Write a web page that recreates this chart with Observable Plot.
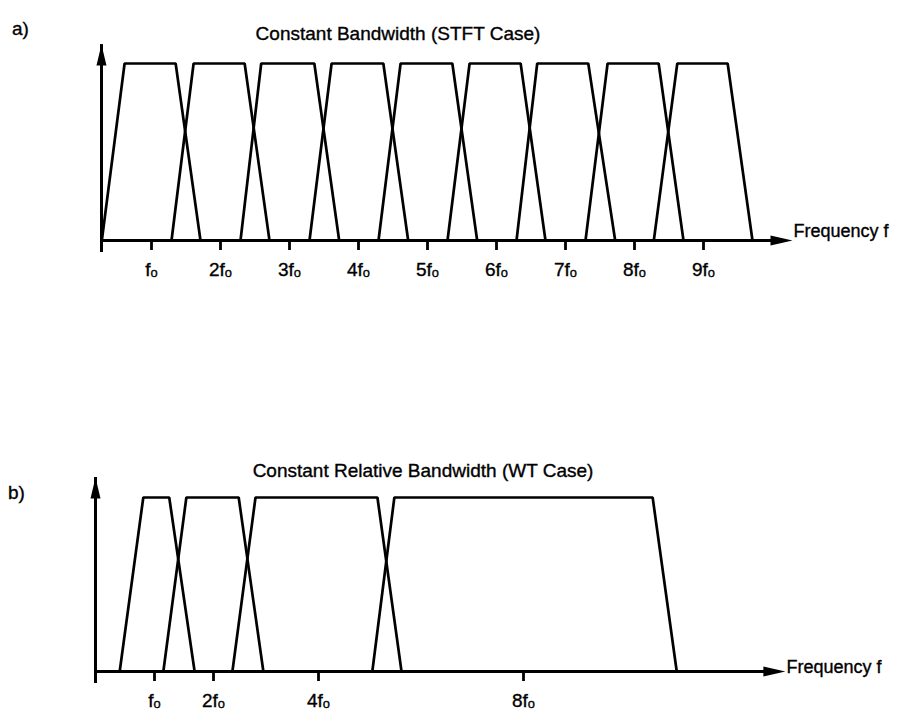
<!DOCTYPE html>
<html>
<head>
<meta charset="utf-8">
<script src="https://cdn.jsdelivr.net/npm/d3@7"></script>
<script src="https://cdn.jsdelivr.net/npm/@observablehq/plot@0.6"></script>
<style>
  body { margin: 0; background: #fff; }
  #wrap { position: relative; width: 898px; height: 717px; background: #fff; overflow: hidden;
          font-family: "Liberation Sans", Arial, Helvetica, sans-serif; color: #000; }
  .t { position: absolute; font-size: 19px; line-height: 19px; white-space: nowrap; -webkit-text-stroke: 0.35px #000; }
  .c { text-align: center; }
  .p { position: absolute; left: 0; }
  #wrap svg text { stroke: #000; stroke-width: 0.35px; }
</style>
</head>
<body>
<div id="wrap">
  <div class="t" style="left:12px;top:19px">a)</div>
  <div class="t c" style="left:0;width:796px;top:24px">Constant Bandwidth (STFT Case)</div>
  <div class="t" style="left:8px;top:483px">b)</div>
  <div class="t c" style="left:0;width:846px;top:461px">Constant Relative Bandwidth (WT Case)</div>
  <div id="topChart" class="p" style="top:0"></div>
  <div id="botChart" class="p" style="top:440px"></div>
</div>
<script>
// ---------- data (frequency in units of fo, response 0..1) ----------
// (a) Constant bandwidth filters
const topTickValues = [1, 2, 3, 4, 5, 6, 7, 8, 9];
const topTickLabels = ["f", "2f", "3f", "4f", "5f", "6f", "7f", "8f", "9f"];
const topLeftBottom  = [0.28, 1.29, 2.29, 3.29, 4.29, 5.29, 6.29, 7.29, 8.28];
const topLeftTop     = [0.61, 1.61, 2.59, 3.61, 4.61, 5.61, 6.59, 7.61, 8.62];
const topRightTop    = [1.35, 2.35, 3.36, 4.36, 5.36, 6.35, 7.33, 8.35, 9.35];
const topRightBottom = [1.71, 2.71, 3.72, 4.72, 5.72, 6.71, 7.72, 8.71, 9.71];
const topXAxisExtent = [0.275, 10.29];
const topYAxisExtent = [0, 1.107];

// (b) Constant relative bandwidth filters
const botTickValues = [1, 2, 4, 8];
const botTickLabels = ["f", "2f", "4f", "8f"];
const botLeftBottom  = [0.41, 1.15, 2.36, 5.05];
const botLeftTop     = [0.81, 1.54, 2.80, 5.48];
const botRightTop    = [1.25, 2.48, 5.15, 10.52];
const botRightBottom = [1.68, 2.95, 5.62, 10.99];
const botXAxisExtent = [0, 13.11];
const botYAxisExtent = [0, 1.115];

const tickSubscript = "o";
const axisTitle = "Frequency f";

// ---------- helpers ----------
function trapezoids(lb, lt, rt, rb) {
  const rows = [];
  lb.forEach((_, i) => {
    rows.push({id: i, f: lb[i], a: 0});
    rows.push({id: i, f: lt[i], a: 1});
    rows.push({id: i, f: rt[i], a: 1});
    rows.push({id: i, f: rb[i], a: 0});
  });
  return rows;
}
const arrowRight = {draw(ctx) { ctx.moveTo(0, 0); ctx.lineTo(-22, -5); ctx.lineTo(-22, 5); ctx.closePath(); }};
const arrowUp    = {draw(ctx) { ctx.moveTo(0, 0); ctx.lineTo(-5, 21); ctx.lineTo(5, 21); ctx.closePath(); }};

function panel({height, marginTop, marginBottom, xScale, ticks, labels, lb, lt, rt, rb, xExt, yExt, labelDy}) {
  const svg = Plot.plot({
    width: 898,
    height,
    marginTop,
    marginBottom,
    marginLeft: 0,
    marginRight: 0,
    x: xScale,
    y: {domain: [0, 1], axis: null},
    style: {fontFamily: '"Liberation Sans", Arial, Helvetica, sans-serif', fontSize: "19px", color: "#000", background: "transparent", overflow: "visible"},
    marks: [
      Plot.line(trapezoids(lb, lt, rt, rb), {x: "f", y: "a", z: "id", stroke: "#000", strokeWidth: 2.7, strokeLinejoin: "miter"}),
      Plot.ruleY([0], {x1: xExt[0], x2: xExt[1], stroke: "#000", strokeWidth: 3, insetRight: 12}),
      Plot.ruleX([xExt[0]], {y1: yExt[0], y2: yExt[1], stroke: "#000", strokeWidth: 3, insetTop: 12}),
      Plot.dot([{f: xExt[1], a: 0}], {x: "f", y: "a", symbol: arrowRight, fill: "#000", stroke: "none"}),
      Plot.dot([{f: xExt[0], a: yExt[1]}], {x: "f", y: "a", symbol: arrowUp, fill: "#000", stroke: "none"}),
      Plot.text([{f: xExt[1], a: 0}], {x: "f", y: "a", text: () => axisTitle, textAnchor: "start", dx: 1, dy: labelDy, fontSize: 18}),
      Plot.axisX({ticks, tickSize: 10, tickPadding: 12, strokeWidth: 2.8, label: null,
                  tickFormat: (d) => labels[ticks.indexOf(d)]})
    ]
  });
  svg.querySelectorAll('[aria-label="x-axis tick label"] text').forEach((t) => {
    const ts = document.createElementNS("http://www.w3.org/2000/svg", "tspan");
    ts.setAttribute("font-size", "0.68em");
    ts.setAttribute("dy", "0.1em");
    ts.textContent = tickSubscript;
    t.appendChild(ts);
  });
  return svg;
}

document.getElementById("topChart").append(panel({
  height: 300, marginTop: 63, marginBottom: 60,
  xScale: {type: "linear", domain: [0, 12], range: [82, 910]},
  ticks: topTickValues, labels: topTickLabels,
  lb: topLeftBottom, lt: topLeftTop, rt: topRightTop, rb: topRightBottom,
  xExt: topXAxisExtent, yExt: topYAxisExtent, labelDy: -9
}));

document.getElementById("botChart").append(panel({
  height: 277, marginTop: 57, marginBottom: 46,
  xScale: {type: "linear", domain: [0, 1, 2, 4, 8], range: [95, 154, 213, 318, 523]},
  ticks: botTickValues, labels: botTickLabels,
  lb: botLeftBottom, lt: botLeftTop, rt: botRightTop, rb: botRightBottom,
  xExt: botXAxisExtent, yExt: botYAxisExtent, labelDy: -4
}));
</script>
</body>
</html>
